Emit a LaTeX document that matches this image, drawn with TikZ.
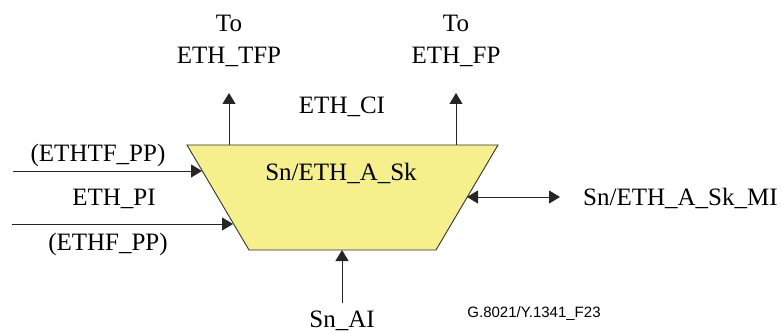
\documentclass[tikz,border=0pt]{standalone}
\usepackage{fontspec}
\setmainfont{Liberation Serif}
\newfontfamily\figsans{Liberation Sans}
\usetikzlibrary{arrows.meta}
\definecolor{blockyellow}{RGB}{245,240,140}

\begin{document}
\begin{tikzpicture}[x=1pt,y=1pt,yscale=-1,xscale=1,
  >={Triangle[length=11pt,width=13pt]},
  sig/.style={draw=black!85, line width=0.9pt},
  lbl/.style={font=\fontsize{25}{32}\selectfont, inner sep=0pt}]
\useasboundingbox (0,0) rectangle (782,334);

%Shape: Trapezoid [Sn/ETH_A_Sk]
\coordinate (tl) at (187,145);
\coordinate (tr) at (498,145);
\coordinate (br) at (436,250);
\coordinate (bl) at (249,250);
\draw [draw=black!80, line width=0.9pt, fill=blockyellow] (tl) -- (tr) -- (br) -- (bl) -- cycle ;

%Points on the block edges
\coordinate (tfpS) at (229,145);
\coordinate (fpS)  at (456,145);
\coordinate (tfIn) at (202,171);
\coordinate (fIn)  at (233,224);
\coordinate (miIn) at (467,197);
\coordinate (aiIn) at (342,250);

%Free ends
\coordinate (tfpE) at (229,93);
\coordinate (fpE)  at (456,93);
\coordinate (tfS)  at (13,171);
\coordinate (fS)   at (12,224);
\coordinate (miE)  at (560,197);
\coordinate (aiS)  at (342,303);

%Straight Lines
\draw [sig, ->] (tfpS) -- (tfpE) ;
\draw [sig, ->] (fpS) -- (fpE) ;
\draw [sig, ->] (tfS) -- (tfIn) ;
\draw [sig, ->] (fS) -- (fIn) ;
\draw [sig, <->] (miIn) -- (miE) ;
\draw [sig, ->] (aiS) -- (aiIn) ;

% Text Node
\node [lbl, align=center] (tfp) at (229,41) {To\\ETH\_TFP};
% Text Node
\node [lbl, align=center] (fp) at (456,41) {To\\ETH\_FP};
% Text Node
\node [lbl, anchor=base] (ci) at (342,114) {ETH\_CI};
% Text Node
\node [lbl, anchor=base] (blk) at (341,180) {Sn/ETH\_A\_Sk};
% Text Node
\node [lbl, anchor=base] (tfpp) at (98,162) {(ETHTF\_PP)};
% Text Node
\node [lbl, anchor=base] (pi) at (114,205) {ETH\_PI};
% Text Node
\node [lbl, anchor=base] (fpp) at (108,250) {(ETHF\_PP)};
% Text Node
\node [lbl, anchor=base west] (mi) at (583,205) {Sn/ETH\_A\_Sk\_MI};
% Text Node
\node [lbl, anchor=base] (ai) at (342,327) {Sn\_AI};
% Text Node
\node [inner sep=0pt, anchor=base, font=\figsans\fontsize{15}{17}\selectfont] (fig) at (534,317) {G.8021/Y.1341\_F23};

\end{tikzpicture}
\end{document}
